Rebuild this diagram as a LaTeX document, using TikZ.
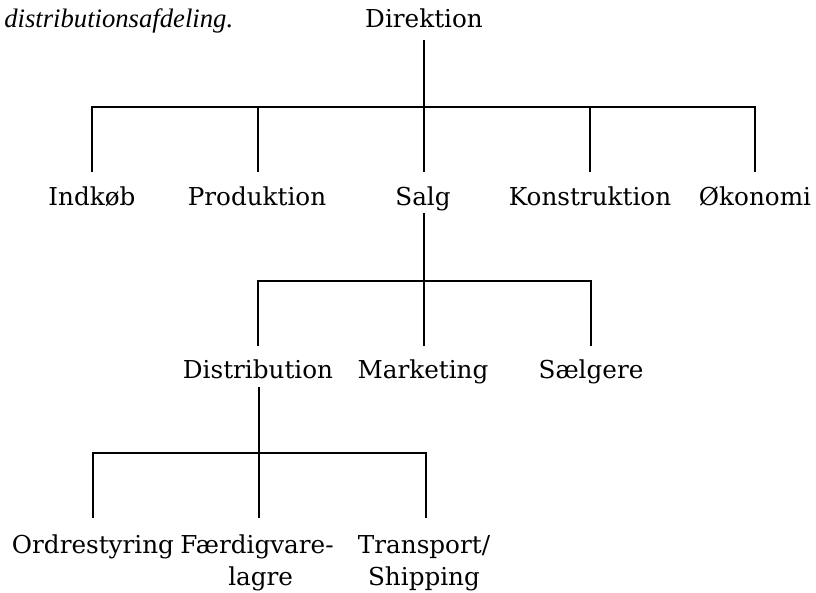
\documentclass[tikz,border=0pt]{standalone}
\usepackage{fontspec}
\setmainfont{DejaVu Serif}
\newfontfamily\captionfont{Liberation Serif}
\usetikzlibrary{calc}
\newcommand{\twolines}[2]{\begin{tabular}[t]{@{}c@{}}#1\\#2\end{tabular}}
\begin{document}
\begin{tikzpicture}[x=0.75pt,y=-0.75pt,
  every node/.style={inner sep=0pt, font=\fontsize{18.5}{24}\selectfont},
  unit/.style={anchor=base},
  link/.style={line width=1.5pt}]
\useasboundingbox (0,0) rectangle (816,592);

% caption fragment
\node[anchor=base west, font=\captionfont\itshape\fontsize{20}{24}\selectfont] (cap) at (4,28) {distributionsafdeling.};

% top
\node[unit] (dir) at (424,28) {Direktion};

% first level
\node[unit] (ind) at (92,205) {Indkøb};
\node[unit] (pro) at (257,205) {Produktion};
\node[unit] (sal) at (423,205) {Salg};
\node[unit] (kon) at (590,205) {Konstruktion};
\node[unit] (oko) at (755,205) {Økonomi};

% second level
\node[unit] (dis) at (258,378) {Distribution};
\node[unit] (mar) at (423,378) {Marketing};
\node[unit] (sae) at (591,378) {Sælgere};

% third level
\node[unit] (ord) at (93,553) {Ordrestyring};
\node[unit] (fae) at (257,553) {\twolines{Færdigvare-}{\hspace*{0.3em}lagre}};
\node[unit] (tra) at (424,553) {\twolines{Transport/}{Shipping}};

% bar levels
\coordinate (b1) at (424,107);
\coordinate (b2) at (424,281);
\coordinate (b3) at (259,453);

% Direktion -> first level
\draw[link] ([yshift=-9pt]dir.base -| b1) -- ([yshift=24.75pt]sal.base -| b1);
\draw[link] ([yshift=24.75pt]ind.base) |- (b1) -| ([yshift=24.75pt]oko.base);
\draw[link] ([yshift=24.75pt]pro.base -| 258,0) -- (258,107);
\draw[link] ([yshift=24.75pt]kon.base) -- (kon.base |- b1);

% Salg -> second level
\draw[link] ([yshift=-6pt]sal.base -| b2) -- ([yshift=24pt]mar.base -| b2);
\draw[link] ([yshift=24pt]dis.base) |- (b2) -| ([yshift=24pt]sae.base);

% Distribution -> third level
\draw[link] ([yshift=-6.75pt]dis.base -| b3) -- ([yshift=26.25pt]fae.base -| b3);
\draw[link] ([yshift=26.25pt]ord.base) |- (b3) -| ([yshift=26.25pt]tra.base -| 426,0);
\end{tikzpicture}
\end{document}
